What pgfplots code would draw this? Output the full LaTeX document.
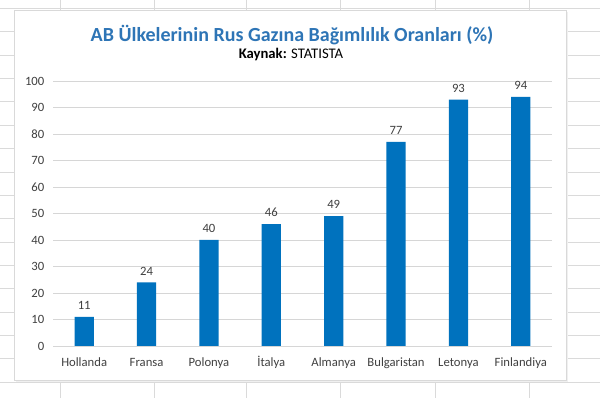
\documentclass[border=0pt]{standalone}
\usepackage{pgfplots}
\pgfplotsset{compat=1.18}
\usepackage{fontspec}
\setmainfont{Carlito}
\definecolor{barblue}{RGB}{0,114,190}
\definecolor{titleblue}{RGB}{46,117,182}
\definecolor{txtgray}{RGB}{64,64,64}
\definecolor{cellgray}{RGB}{218,218,218}
\begin{document}
\begin{tikzpicture}[x=0.75pt,y=0.75pt]
\path[use as bounding box] (0,0) rectangle (600,398);
\fill[white] (0,0) rectangle (600,398);
% spreadsheet cell lines
\foreach \k in {0,...,17} {
  \draw[cellgray,line width=0.6pt] (0,{398-8.5-23.35*\k}) -- (600,{398-8.5-23.35*\k});
}
\foreach \xx in {60,154,246,340,435,529} {
  \draw[cellgray,line width=0.6pt] (\xx,0) -- (\xx,398);
}
% chart frame
\fill[black!6] (16,16) rectangle (568,386);
\filldraw[fill=white,draw=black!15] (14,18) rectangle (566,388);
% titles
\node[font=\fontsize{15}{18}\selectfont\bfseries,text=titleblue] at (292,363) {AB Ülkelerinin Rus Gazına Bağımlılık Oranları (\%)};
\node[font=\fontsize{11}{13}\selectfont,text=black] at (291,343) {\textbf{Kaynak:} STATISTA};
\begin{axis}[
  at={(39.75pt,39pt)}, anchor=south west,
  scale only axis, width=374.25pt, height=198.75pt,
  xmin=-0.5, xmax=7.5, ymin=0, ymax=100,
  ytick={0,10,...,100},
  xtick={0,...,7},
  xticklabels={Hollanda,Fransa,Polonya,İtalya,Almanya,Bulgaristan,Letonya,Finlandiya},
  ymajorgrids, grid style={draw=black!16, line width=0.7pt},
  axis line style={draw=none},
  major tick length=0pt,
  /pgf/number format/assume math mode=true,
  ticklabel style={font=\fontsize{9.5}{11}\selectfont, text=txtgray},
  xticklabel style={text height=1.6ex, text depth=0.4ex, yshift=-4pt},
  yticklabel style={xshift=-3pt},
  ybar, bar width=14.5pt,
  nodes near coords,
  nodes near coords style={font=\fontsize{9.5}{11}\selectfont, text=txtgray, yshift=2pt},
  clip=false,
]
\addplot[fill=barblue, draw=none] coordinates {(0,11) (1,24) (2,40) (3,46) (4,49) (5,77) (6,93) (7,94)};
\end{axis}
\end{tikzpicture}
\end{document}
